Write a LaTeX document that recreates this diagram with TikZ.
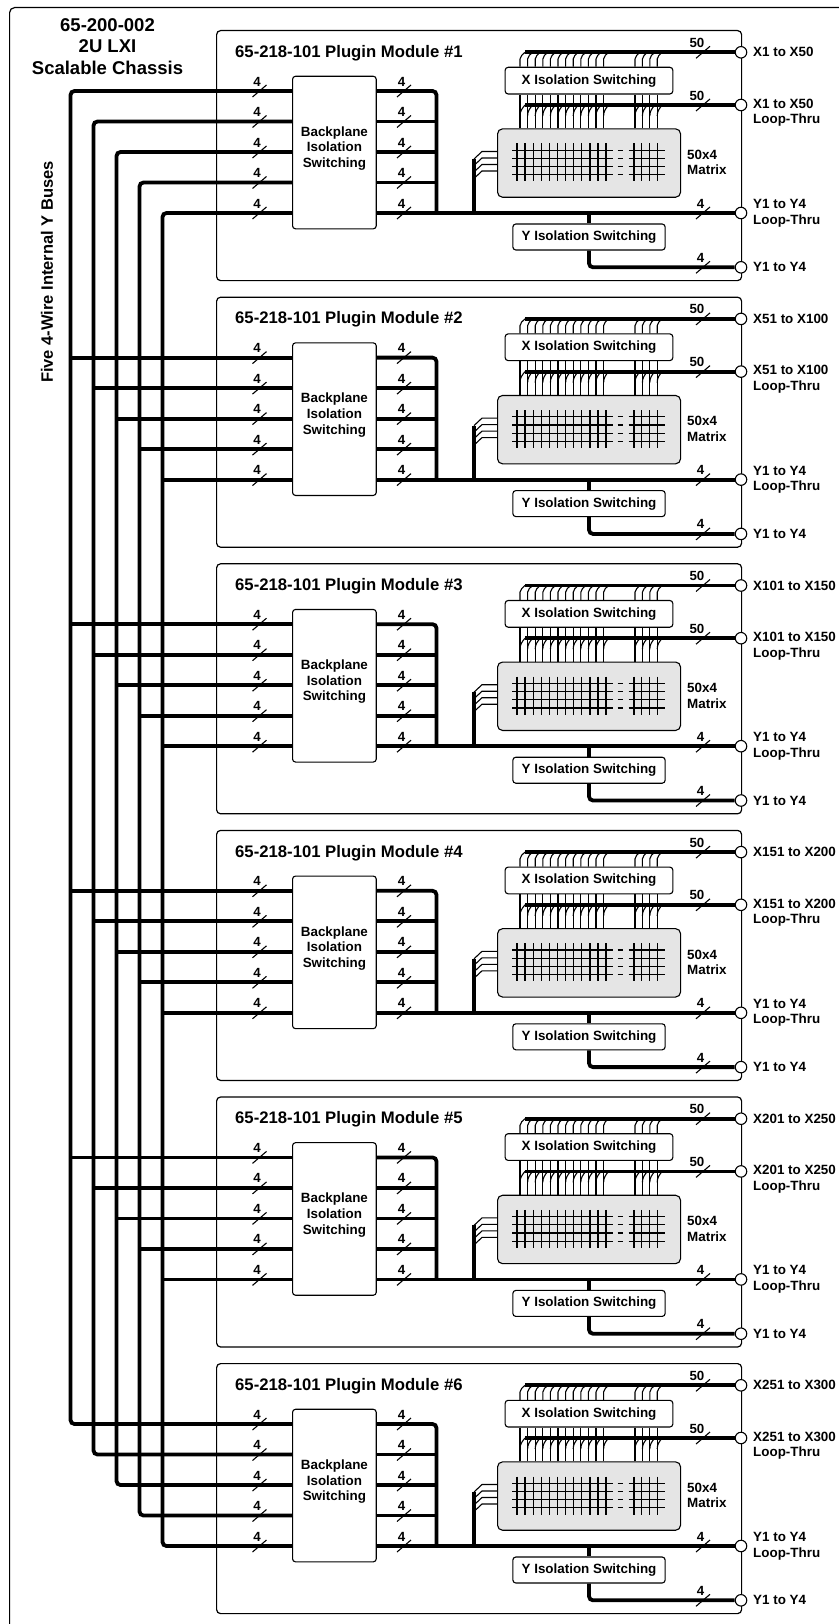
\documentclass[tikz,border=0pt]{standalone}
\usepackage{fontspec}
\setmainfont{Liberation Sans}

% slash with wire count on a bus
\newcommand{\busmark}[3]{%
  \draw[wire] (#1-7,#2+6) -- (#1+7,#2-6);
  \node[num, anchor=east] at (#1+1.5,#2-9.5) {#3};}

\begin{document}
\begin{tikzpicture}[
    x=1pt, y=-1pt,
    bus/.style={line width=3.8pt, rounded corners=4pt},
    wire/.style={line width=1.1pt},
    grid/.style={line width=1.35pt},
    lbl/.style={font=\fontsize{13.4}{15.6}\selectfont\bfseries, inner sep=0pt},
    num/.style={font=\fontsize{13.3}{15}\selectfont\bfseries, inner sep=0pt},
    box/.style={draw, line width=1.1pt, rounded corners=3pt, fill=white,
                font=\fontsize{13.4}{16.5}\selectfont\bfseries, inner sep=0pt},
    modbox/.style={draw, line width=1.2pt, rounded corners=4pt, inner sep=0pt,
                   minimum width=525pt, minimum height=250pt},
    mbox/.style={draw, line width=1.1pt, rounded corners=5pt, fill=gray!20, inner sep=0pt,
                 minimum width=183pt, minimum height=68.4pt},
    port/.style={circle, draw, fill=white, line width=1.1pt, minimum size=11.5pt, inner sep=0pt},
]
\useasboundingbox (0,0) rectangle (838,1624);

% Chassis frame and labels
\node[draw, line width=1.2pt, rounded corners=5pt, minimum width=870pt, minimum height=1660pt,
      anchor=north west] (chassis) at (9,7) {};
\node[align=center, font=\fontsize{18.5}{21.5}\selectfont\bfseries] (ctitle) at (107.5,46.5)
      {65-200-002\\2U LXI\\Scalable Chassis};
\node[font=\fontsize{16.5}{18}\selectfont\bfseries, rotate=90] (ybus) at (47,272)
      {Five 4-Wire Internal Y Buses};

% Plugin modules
\foreach \m in {1,...,6} {
  \pgfmathtruncatemacro\xa{50*(\m-1)+1}
  \pgfmathtruncatemacro\xb{50*\m}
  \begin{scope}[shift={(0,30+266.6*(\m-1))}]
    % frame and title
    \node[modbox, anchor=north west] (mod\m) at (216,0) {};
    \node[font=\fontsize{16.7}{18}\selectfont\bfseries, anchor=west, inner sep=0pt] (title\m)
          at (235,23) {65-218-101 Plugin Module \#\m};

    % ports
    \node[port] (cx\m) at (741,22.3) {};
    \node[port] (cxl\m) at (741,75) {};
    \node[port] (cyl\m) at (741,183) {};
    \node[port] (cy\m) at (741,237.3) {};

    % backplane switching
    \node[box, minimum width=83.7pt, minimum height=152.6pt, anchor=north west] (bp\m) at (292,45.7) {};
    \node[lbl, align=center] (bpt\m) at ([yshift=4pt]bp\m.center) {Backplane\\Isolation\\Switching};
    \foreach \k in {0,...,4} {
      \pgfmathsetmacro\yk{61+30.5*\k}
      \coordinate (bl\m-\k) at (bp\m.west |- 0,\yk);
      \coordinate (br\m-\k) at (bp\m.east |- 0,\yk);
      \busmark{259.5}{\yk}{4}
      \busmark{404}{\yk}{4}
    }
    \coordinate (col\m) at (436.5,183);
    \draw[bus] (br\m-0) -| (col\m);
    \foreach \k in {1,2,3} \draw[bus] (br\m-\k) -- (col\m |- br\m-\k);
    \draw[bus] (br\m-4) -- (cyl\m);

    % matrix
    \node[mbox, anchor=north west] (mx\m) at (497,98.3) {};
    \foreach \r in {-12.3,-4.1,4.1,12.3} {
      \draw[grid] (512,132.5+\r) -- (613,132.5+\r);
      \draw[grid] (617.5,132.5+\r) -- (623,132.5+\r);
      \draw[grid] (628.5,132.5+\r) -- (665,132.5+\r);
    }
    \foreach \i in {0,...,11} \draw[grid] (517+8.1*\i,113.5) -- (517+8.1*\i,151.5);
    \foreach \i in {0,...,3} \draw[grid] (634+7.8*\i,113.5) -- (634+7.8*\i,151.5);
    \node[lbl, align=left, anchor=west] (mxt\m) at (687,132.5) {50x4\\Matrix};

    % Y bus into matrix
    \coordinate (fan\m) at (474,129);
    \draw[bus] (fan\m) -- (fan\m |- br\m-4);
    \foreach \i in {0,...,3} {
      \pgfmathsetmacro\fy{121.5+6.5*\i}
      \draw[wire] (474,\fy+7.5) -- (482,\fy) -- (mx\m.west |- 0,\fy);
    }

    % X isolation and X buses
    \node[box, minimum width=167.7pt, minimum height=26.7pt] (xi\m) at (589,50.65) {X Isolation Switching};
    \coordinate (xs\m) at (525,22.3);
    \coordinate (xls\m) at (525,75);
    \draw[bus] (xs\m) -- (cx\m);
    \draw[bus] (xls\m) -- (cxl\m);
    \foreach \xx in {520,527.6,535.2,542.8,550.4,558,565.6,573.2,580.8,588.4,596,603.6,635,642.4,649.8,657.2} {
      \draw[wire] (\xx,0 |- mx\m.north) -- (\xx,0 |- xi\m.south);
      \draw[wire] (\xx,86) to[out=90,in=-130] (\xx+5,75);
      \draw[wire] (\xx,0 |- xi\m.north) -- (\xx,29) to[out=90,in=-130] (\xx+5,22.3);
    }
    \busmark{703}{22.3}{50}
    \busmark{703}{75}{50}

    % Y isolation
    \node[box, minimum width=152.3pt, minimum height=26pt] (yi\m) at (589,207) {Y Isolation Switching};
    \draw[bus] (yi\m.north |- br\m-4) -- (yi\m.north);
    \draw[bus] (yi\m.south) |- (cy\m);
    \busmark{703}{183}{4}
    \busmark{703}{237.3}{4}

    % port labels
    \node[lbl, anchor=west] (lx\m) at (753,22.3) {X\xa\ to X\xb};
    \node[lbl, anchor=west, align=left] (lxl\m) at (753,82.8) {X\xa\ to X\xb\\Loop-Thru};
    \node[lbl, anchor=west, align=left] (lyl\m) at (753,183) {Y1 to Y4\\Loop-Thru};
    \node[lbl, anchor=west] (ly\m) at (753,237.3) {Y1 to Y4};
  \end{scope}
}

% Internal Y buses
\foreach \k in {0,...,4} {
  \pgfmathsetmacro\xk{70.5+23*\k}
  \coordinate (yb\k) at (\xk,800);
  \draw[bus] (bl1-\k) -| (yb\k) |- (bl6-\k);
  \foreach \m in {2,...,5} \draw[bus] (yb\k |- bl\m-\k) -- (bl\m-\k);
}

\end{tikzpicture}
\end{document}
